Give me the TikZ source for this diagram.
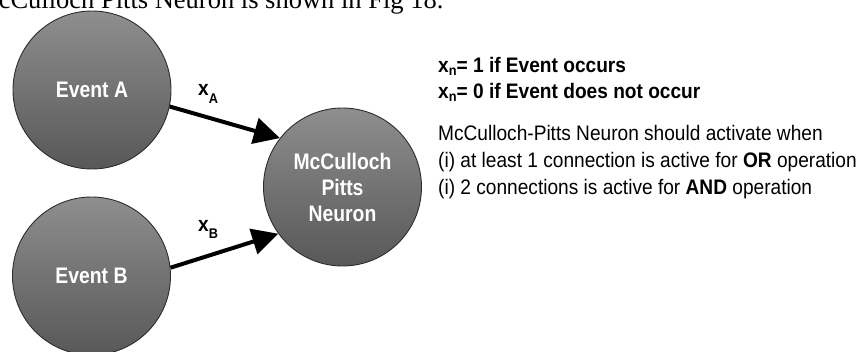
\documentclass[tikz,border=0pt]{standalone}
\usepackage{fontspec}
\setmainfont{Liberation Serif}
\newfontfamily\labelfont[FakeStretch=0.91]{Liberation Sans}
\newfontfamily\circfont[FakeStretch=0.86]{Liberation Sans}
\usetikzlibrary{arrows.meta}

\definecolor{circtop}{RGB}{142,142,142}
\definecolor{circbot}{RGB}{88,88,88}
\definecolor{circline}{RGB}{45,45,45}

\newcommand{\lowsub}[2]{\raisebox{#1}{\fontsize{14}{14}\selectfont #2}}

\tikzset{
  unit/.style={circle, draw=circline, line width=0.9pt, minimum size=158pt,
    inner sep=0pt, top color=circtop, bottom color=circbot, text=white,
    align=center, font=\circfont\bfseries\fontsize{22.5}{26}\selectfont},
  link/.style={line width=4pt, -{Triangle[length=26pt,width=26pt]}},
  weight/.style={anchor=base west, inner sep=0pt,
    font=\labelfont\bfseries\fontsize{21}{26}\selectfont},
  note/.style={anchor=base west, inner sep=0pt,
    font=\labelfont\fontsize{21}{27}\selectfont},
  notebold/.style={note, font=\labelfont\bfseries\fontsize{21}{27}\selectfont},
}

\begin{document}
\begin{tikzpicture}[x=1pt,y=-1pt]
  \useasboundingbox (0,0) rectangle (859,351);

  % running text line above the figure
  \node[anchor=base west, inner sep=0pt, font=\fontsize{26.5}{26.5}\selectfont]
    (caption) at (-25,8) {McCulloch Pitts Neuron is shown in Fig 18.};

  % input events and the neuron
  \node[unit] (evA) at (92,90) {Event A};
  \node[unit] (evB) at (91.5,276) {Event B};
  \node[unit] (neuron) at (342.5,187) {McCulloch\\Pitts\\Neuron};

  % weighted connections
  \draw[link] (evA.-12.3) -- (neuron.142.2);
  \draw[link] (evB.6.5) -- (neuron.216.7);

  \node[weight] (wA) at (198,95) {x\lowsub{-8pt}{A}};
  \node[weight] (wB) at (198,231.5) {x\lowsub{-6.5pt}{B}};

  % definitions and activation rule
  \node[notebold] (def1) at (438,72) {x\lowsub{-3pt}{n}= 1 if Event occurs};
  \node[notebold] (def2) at (438,98.5) {x\lowsub{-3pt}{n}= 0 if Event does not occur};

  \node[note] (rule0) at (438,140) {McCulloch-Pitts Neuron should activate when};
  \node[note] (rule1) at (438,167) {(i) at least 1 connection is active for \textbf{OR} operation};
  \node[note] (rule2) at (438,194) {(i) 2 connections is active for \textbf{AND} operation};
\end{tikzpicture}
\end{document}
